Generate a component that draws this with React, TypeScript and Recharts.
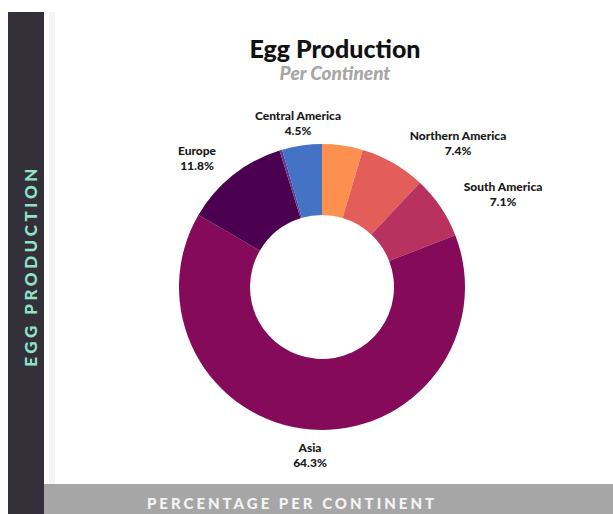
import { PieChart, Pie, Cell } from "recharts"

// slice order runs clockwise from 12 o'clock
const continents = ["Africa", "Northern America", "South America", "Asia", "Europe", "Oceania", "Central America"]
const shares = [4.6, 7.4, 7.1, 64.3, 11.8, 0.3, 4.5]
const sliceColors = ["#FE904F", "#E35E59", "#B9315E", "#850A5A", "#4C0150", "#5B3C8C", "#4472C4"]
const labeledContinents = ["Central America", "Northern America", "South America", "Asia", "Europe"]

const data = continents.map((name, i) => ({ name, value: shares[i] }))

// where each outside label sits, relative to the pie centre
const labelOffsets: Record<string, [number, number]> = {
  "Central America": [-24, -172],
  "Northern America": [136, -152],
  "South America": [181, -101],
  Asia: [-12, 160],
  Europe: [-125, -137],
}

const renderLabel = (props: any) => {
  const { cx, cy, name, value } = props
  if (!labeledContinents.includes(name)) return null
  const [dx, dy] = labelOffsets[name]
  const x = cx + dx
  const y = cy + dy
  return (
    <g>
      <text x={x} y={y} textAnchor="middle" dominantBaseline="central" fill="#1a1a1a" fontSize={12} fontWeight={900} fontFamily="Lato, sans-serif">
        {name}
      </text>
      <text x={x} y={y + 15} textAnchor="middle" dominantBaseline="central" fill="#1a1a1a" fontSize={12} fontWeight={900} fontFamily="Lato, sans-serif">
        {`${value.toFixed(1)}%`}
      </text>
    </g>
  )
}

export default function App() {
  return (
    <div style={{ position: "absolute", left: 0, top: 0, width: 613, height: 514, overflow: "hidden", background: "#fff" }}>
      {/* left side bar */}
      <div style={{ position: "absolute", left: 8, top: 12, width: 36, height: 502, background: "#333039" }} />
      <div style={{ position: "absolute", left: 49, top: 12, width: 6, height: 472, background: "#f4f4f4" }} />
      <div
        style={{
          position: "absolute",
          left: 30,
          top: 266,
          transform: "translate(-50%, -50%) rotate(-90deg)",
          color: "#8FE3C9",
          fontFamily: "Lato, sans-serif",
          fontWeight: 900,
          fontSize: 17,
          lineHeight: 1,
          letterSpacing: 3.5,
          whiteSpace: "nowrap",
        }}
      >
        EGG PRODUCTION
      </div>
      {/* bottom bar */}
      <div style={{ position: "absolute", left: 44, top: 484, width: 569, height: 30, background: "#a6a6a6" }} />
      <div
        style={{
          position: "absolute",
          left: 292,
          top: 503,
          transform: "translate(-50%, -50%)",
          color: "#f4f4f4",
          fontFamily: "Lato, sans-serif",
          fontWeight: 900,
          fontSize: 15,
          lineHeight: 1,
          letterSpacing: 3,
          whiteSpace: "nowrap",
        }}
      >
        PERCENTAGE PER CONTINENT
      </div>
      {/* titles */}
      <div style={{ position: "absolute", left: 335, top: 48, transform: "translate(-50%, -50%)", fontFamily: "Lato, sans-serif", fontWeight: 900, fontSize: 25, lineHeight: 1, color: "#111", whiteSpace: "nowrap" }}>
        Egg Production
      </div>
      <div style={{ position: "absolute", left: 335, top: 72, transform: "translate(-50%, -50%)", fontFamily: "Lato, sans-serif", fontWeight: 900, fontStyle: "italic", fontSize: 19, lineHeight: 1, color: "#a6a6a6", whiteSpace: "nowrap" }}>
        Per Continent
      </div>
      <div style={{ position: "absolute", left: 0, top: 0 }}>
        <PieChart width={613} height={514} margin={{ top: 0, right: 0, bottom: 0, left: 0 }}>
          <Pie
            data={data}
            dataKey="value"
            nameKey="name"
            cx={322}
            cy={287}
            innerRadius={72}
            outerRadius={143}
            startAngle={90}
            endAngle={-270}
            stroke="none"
            label={renderLabel}
            labelLine={false}
            isAnimationActive={false}
          >
            {data.map((entry, i) => (
              <Cell key={entry.name} fill={sliceColors[i]} />
            ))}
          </Pie>
        </PieChart>
      </div>
    </div>
  )
}
